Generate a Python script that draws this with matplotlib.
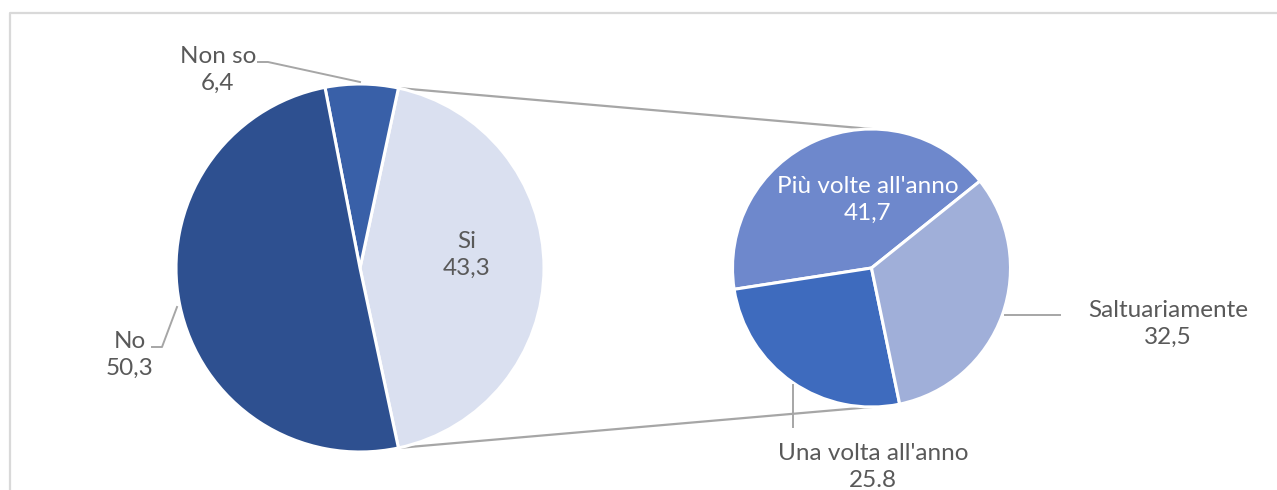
import matplotlib.pyplot as plt
import numpy as np

W, H = 1277, 490

# main pie
main_labels = ["Si", "Non so", "No"]
main_values = [43.3, 6.4, 50.3]
main_text = ["43,3", "6,4", "50,3"]
main_colors = ["#DAE0F0", "#3960A8", "#2E5090"]

# breakdown of "Si"
sub_labels = ["Più volte all'anno", "Una volta all'anno", "Saltuariamente"]
sub_values = [41.7, 25.8, 32.5]
sub_text = ["41,7", "25.8", "32,5"]
sub_colors = ["#6E88CC", "#3E6BBE", "#A0AFD9"]

plt.rcParams['font.family'] = ['Lato', 'DejaVu Sans']
grey_txt = "#595959"
grey_line = "#A6A6A6"


def py(y):
    # image-style y (top down) to data y
    return H - y


fig = plt.figure(figsize=(W / 100, H / 100), dpi=100)
ax = fig.add_axes([0, 0, 1, 1])

c1, r1 = (360, py(268)), 184
c2, r2 = (871.5, py(268)), 139

si_half = main_values[0] / 100 * 180
ax.pie(main_values, colors=main_colors, center=c1, radius=r1,
       startangle=-si_half, counterclock=True,
       wedgeprops=dict(edgecolor="white", linewidth=2.2), frame=True)
ax.pie(sub_values, colors=sub_colors, center=c2, radius=r2,
       startangle=38.7, counterclock=True,
       wedgeprops=dict(edgecolor="white", linewidth=2.2), frame=True)
ax.set_xlim(0, W)
ax.set_ylim(0, H)
ax.set_aspect("equal")
ax.axis("off")

# chart area border (right and bottom fall outside)
ax.plot([10, 10, W + 5], [py(H + 5), py(13), py(13)], color="#D9D9D9", lw=1.6)

# connectors between the "Si" slice and the second pie
for sgn in (1, -1):
    a = np.deg2rad(sgn * si_half)
    x0, y0 = c1[0] + r1 * np.cos(a), c1[1] + r1 * np.sin(a)
    x1, y1 = c2[0], c2[1] + sgn * r2
    ax.plot([x0, x1], [y0, y1], color=grey_line, lw=1.6, zorder=0)

# leader lines
ax.plot([258, 268, 360], [py(62), py(62), py(82)], color=grey_line, lw=1.4)
ax.plot([152, 162, 177], [py(347), py(347), py(307)], color=grey_line, lw=1.4)
ax.plot([1005, 1060], [py(315), py(315)], color=grey_line, lw=1.4)
ax.plot([793, 793], [py(385), py(427)], color=grey_line, lw=1.4)

fs = 17.5
ls = 1.3
pos_main = [(467, 255), (218, 70), (130, 355)]
for lab, txt, (x, y) in zip(main_labels, main_text, pos_main):
    ax.text(x, py(y), lab + "\n" + txt, ha="center", va="center",
            fontsize=fs, color=grey_txt, linespacing=ls)

pos_sub = [(868, 200), (873, 467), (1168, 324)]
sub_col = ["white", grey_txt, grey_txt]
for lab, txt, (x, y), col in zip(sub_labels, sub_text, pos_sub, sub_col):
    ax.text(x, py(y), lab + "\n" + txt, ha="center", va="center",
            fontsize=fs, color=col, linespacing=ls)

fig.savefig("out.png", dpi=100)
